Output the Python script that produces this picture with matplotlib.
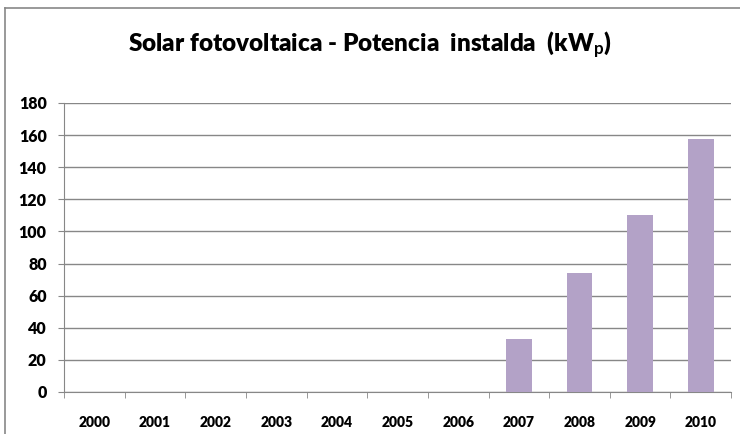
import matplotlib.pyplot as plt
import numpy as np
from matplotlib.lines import Line2D

years = ["2000", "2001", "2002", "2003", "2004", "2005", "2006", "2007", "2008", "2009", "2010"]
potencia = [0, 0, 0, 0, 0, 0, 0, 33, 74, 110, 157.5]
y_ticks = [0, 20, 40, 60, 80, 100, 120, 140, 160, 180]

plt.rcParams["font.family"] = ["Lato", "DejaVu Sans"]
plt.rcParams["font.weight"] = "bold"
plt.rcParams["mathtext.fontset"] = "custom"
plt.rcParams["mathtext.rm"] = "Lato:bold"
plt.rcParams["mathtext.it"] = "Lato:bold"

grid_col = "#878787"

fig = plt.figure(figsize=(7.4, 4.34), dpi=100)
ax = fig.add_axes([0.0865, 0.0968, 0.9015, 0.6659])

x = np.arange(len(years))
ax.bar(x, potencia, width=0.42, color="#B3A2C7", zorder=3)

ax.set_xlim(-0.5, len(years) - 0.5)
ax.set_ylim(0, 180)
ax.set_yticks(y_ticks)
ax.set_xticks(x)
ax.set_xticklabels(years)
ax.set_xticks(np.arange(-0.5, len(years)), minor=True)

ax.yaxis.grid(True, color=grid_col, linewidth=1, zorder=0)
for s in ["top", "right"]:
    ax.spines[s].set_visible(False)
ax.spines["left"].set_color(grid_col)
ax.spines["bottom"].set_color(grid_col)

ax.tick_params(axis="y", length=4.5, color=grid_col, pad=8, labelsize=11.5)
ax.tick_params(axis="x", which="major", length=0, pad=17, labelsize=10)
ax.tick_params(axis="x", which="minor", length=4, color=grid_col)
for lbl in ax.get_xticklabels() + ax.get_yticklabels():
    lbl.set_fontweight("heavy")

fig.text(0.5, 0.895, "Solar fotovoltaica - Potencia  instalda  (kW$_{\\mathrm{p}}$)",
         ha="center", va="center", fontsize=17.5, fontweight="heavy")

# marco exterior del grafico
fig.add_artist(Line2D([0.0068, 0.0068], [0, 0.9816], color=grid_col, lw=1.2))
fig.add_artist(Line2D([0.0068, 1], [0.9816, 0.9816], color=grid_col, lw=1.2))

fig.savefig("out.png", dpi=100)
